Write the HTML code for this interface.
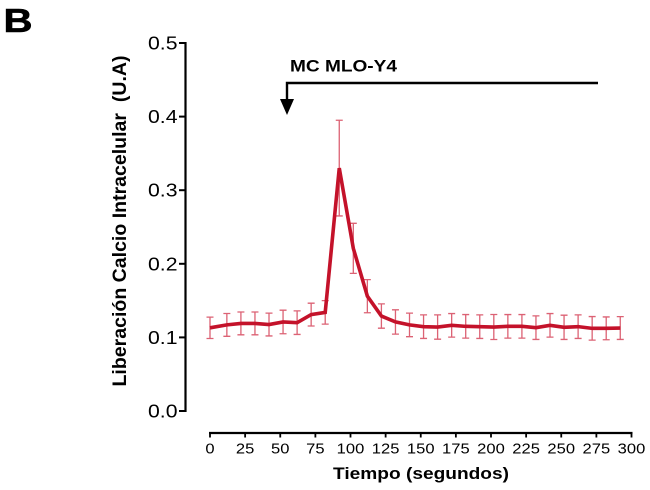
<!DOCTYPE html>
<html lang="es">
<head>
<meta charset="utf-8">
<title>Liberación Calcio Intracelular</title>
<style>
html,body{margin:0;padding:0;background:#fff;width:650px;height:490px;overflow:hidden}
svg{display:block;font-family:"Liberation Sans",Arial,sans-serif}
</style>
</head>
<body>
<svg id="chart" width="650" height="490" viewBox="0 0 650 490" xmlns="http://www.w3.org/2000/svg">
  <text transform="translate(3.5 32) scale(1.2 1)" font-size="33.5" font-weight="bold" fill="#000" stroke="#000" stroke-width="0.6">B</text>
  <g id="y-axis"></g>
  <g id="x-axis"></g>
  <text transform="translate(126 221) rotate(-90)" text-anchor="middle" font-size="19.5" font-weight="bold" fill="#000" textLength="331" lengthAdjust="spacingAndGlyphs">Liberación Calcio Intracelular&#160; (U.A)</text>
  <text x="421" y="479" text-anchor="middle" font-size="16.5" font-weight="bold" fill="#000" textLength="176" lengthAdjust="spacingAndGlyphs">Tiempo (segundos)</text>
  <g id="error-bars"></g>
  <path id="mean-line" fill="none" stroke="#c4122a" stroke-width="3.6" stroke-linejoin="miter"></path>
  <g>
    <text x="290" y="71.5" font-size="16.5" font-weight="bold" fill="#000" textLength="107" lengthAdjust="spacingAndGlyphs">MC MLO-Y4</text>
    <path d="M598 83H287V100" fill="none" stroke="#000" stroke-width="2.4"></path>
    <polygon points="280,99 294,99 287,115" fill="#000"></polygon>
  </g>
</svg>
<script>
const times = [0,12,22,32,42,52,62,72,82,92,102,112,122,132,142,152,162,172,182,192,202,212,222,232,242,252,262,272,282,292];
const means = [0.113,0.117,0.119,0.119,0.1175,0.121,0.12,0.131,0.134,0.33,0.221,0.156,0.129,0.121,0.117,0.1146,0.1141,0.1164,0.115,0.1146,0.1141,0.115,0.115,0.1132,0.1164,0.1137,0.1146,0.1123,0.1123,0.1127];
const errors = [0.0145,0.0155,0.0155,0.0155,0.0155,0.016,0.016,0.0155,0.016,0.065,0.034,0.0225,0.0165,0.0165,0.016,0.016,0.0165,0.016,0.016,0.016,0.017,0.016,0.016,0.016,0.016,0.0165,0.016,0.016,0.0155,0.0155];
const xTicks = [0,25,50,75,100,125,150,175,200,225,250,275,300];
const yTicks = [0,0.1,0.2,0.3,0.4,0.5];

const NS = 'http://www.w3.org/2000/svg';
const xScale = t => 210 + t * (631.5 - 210) / 300;
const yScale = v => 411 - v * (411 - 43) / 0.5;

function make(tag, attrs, parent) {
  const el = document.createElementNS(NS, tag);
  for (const k in attrs) el.setAttribute(k, attrs[k]);
  parent.appendChild(el);
  return el;
}

const yAxis = document.getElementById('y-axis');
const yLine = make('line', {x1: 185.5, x2: 185.5, y1: yScale(0.5) - 1, y2: yScale(0) + 1, stroke: '#000', 'stroke-width': 2.2}, yAxis);


yTicks.forEach(v => {
  const tick = make('line', {x1: 179, x2: 185, y1: yScale(v), y2: yScale(v), stroke: '#000', 'stroke-width': 2}, yAxis);
  
  
  const label = make('text', {x: 148, y: yScale(v) + 6.5, 'font-size': 18.5, fill: '#000', textLength: 29.5, lengthAdjust: 'spacingAndGlyphs'}, yAxis);
  
  
  label.textContent = v.toFixed(1);
});

const xAxis = document.getElementById('x-axis');
const xLine = make('line', {x1: xScale(0) - 1, x2: xScale(300) + 1, y1: 433, y2: 433, stroke: '#000', 'stroke-width': 2.2}, xAxis);


xTicks.forEach(t => {
  const tick = make('line', {x1: xScale(t), x2: xScale(t), y1: 433, y2: 437.5, stroke: '#000', 'stroke-width': 1.8}, xAxis);
  
  
  const text = String(t);
  const w = text.length * 9.2;
  const label = make('text', {x: xScale(t) - w / 2, y: 453.5, 'font-size': 14.5, fill: '#000', textLength: w, lengthAdjust: 'spacingAndGlyphs'}, xAxis);
  
  
  label.textContent = text;
});

const errGroup = document.getElementById('error-bars');
times.forEach((t, i) => {
  const x = xScale(t);
  const top = yScale(means[i] + errors[i]);
  const bottom = yScale(means[i] - errors[i]);
  const bar = make('path', {
    d: 'M' + (x - 3.5) + ' ' + top + 'H' + (x + 3.5) + 'M' + x + ' ' + top + 'V' + bottom + 'M' + (x - 3.5) + ' ' + bottom + 'H' + (x + 3.5),
    fill: 'none', stroke: '#dc6274', 'stroke-width': 1.3
  }, errGroup);
  
  
});

document.getElementById('mean-line').setAttribute('d',
  times.map((t, i) => (i ? 'L' : 'M') + xScale(t).toFixed(2) + ' ' + yScale(means[i]).toFixed(2)).join(''));
</script>
</body>
</html>
